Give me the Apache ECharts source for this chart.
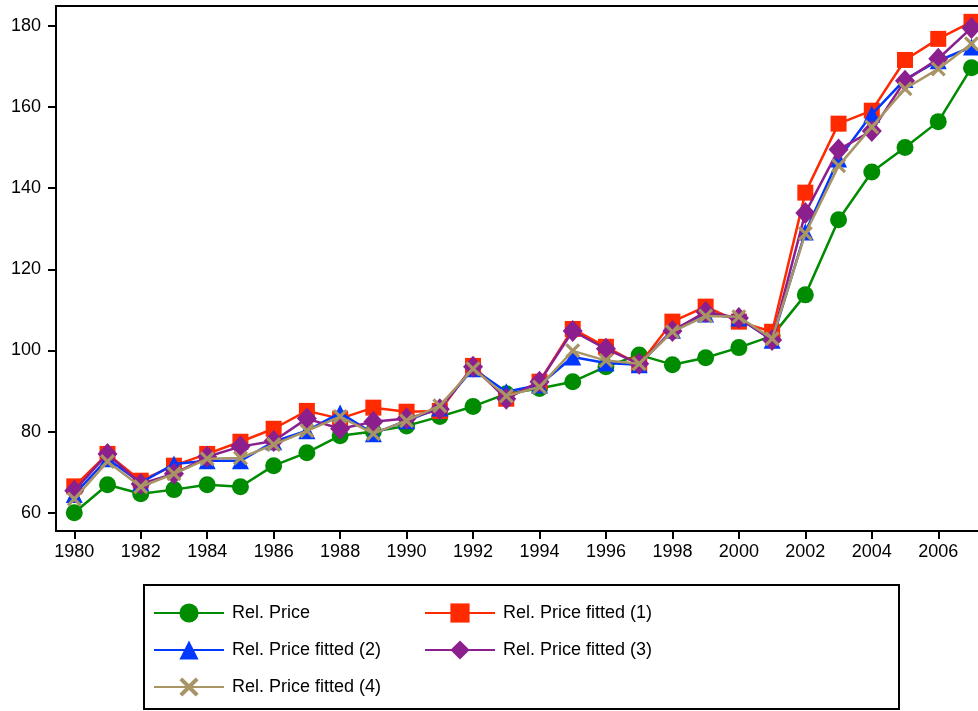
<!DOCTYPE html>
<html>
<head>
<meta charset="utf-8">
<script src="https://cdn.jsdelivr.net/npm/echarts@6/dist/echarts.min.js"></script>
<style>html,body{margin:0;padding:0;background:#fff;}#c{width:978px;height:711px;}</style>
</head>
<body>
<div id="c"></div>
<script>
const years = [1980,1981,1982,1983,1984,1985,1986,1987,1988,1989,1990,1991,1992,1993,1994,1995,1996,1997,1998,1999,2000,2001,2002,2003,2004,2005,2006,2007];
const xTicks = [1980,1982,1984,1986,1988,1990,1992,1994,1996,1998,2000,2002,2004,2006];
const yTicks = [60,80,100,120,140,160,180];
const relPrice = [60,66.9,64.7,65.7,66.9,66.4,71.6,74.8,79,80,81.4,83.7,86.2,89.3,90.6,92.3,96,98.9,96.5,98.2,100.7,103.6,113.7,132.2,144,150,156.4,169.7];
const fitted1 = [66.5,74.5,67.9,71.6,74.5,77.5,80.7,85.1,83.2,85.9,84.9,85.1,96.2,88.1,92.3,105.3,100.9,96.5,107.1,110.8,107.1,104.6,138.9,155.9,159.1,171.6,176.8,181];
const fitted2 = [64.5,73.3,67.4,72,72.8,72.8,77.5,80.2,84.6,79.5,82.7,85.8,95.5,89.8,91.5,98.4,96.9,96.5,105,109,108,102.5,129.2,147.2,158.2,166.8,171.4,174.8];
const fitted3 = [65.4,74.5,67.1,69.6,73.8,76.3,77.7,83.2,80.7,82.4,83.2,85.5,96,88.1,92.3,104.8,100.4,96.7,104.8,109.5,108,102.6,133.9,149.5,154.1,166.5,171.9,179.5];
const fitted4 = [63.4,72.6,66.4,69.6,73.3,73.5,76.8,80.2,83.7,79.5,82.7,86.4,95.5,88.8,91,99.9,97.5,96.7,104.6,108.5,108.3,102.9,128.8,145.5,155.1,164.5,169.4,175.6];
const names = ['Rel. Price','Rel. Price fitted (1)','Rel. Price fitted (2)','Rel. Price fitted (3)','Rel. Price fitted (4)'];

const colors = ['#008c00','#ff2a00','#0038ff','#8c1f8e','#a89464'];
const crossPath = 'path://M0,1.5 L1.5,0 L5,3.5 L8.5,0 L10,1.5 L6.5,5 L10,8.5 L8.5,10 L5,6.5 L1.5,10 L0,8.5 L3.5,5 Z';
const symbols = ['circle','rect','triangle','diamond',crossPath];
const sizes = [17,16,17,[20,22],15];
const datas = [relPrice,fitted1,fitted2,fitted3,fitted4];

const chart = echarts.init(document.getElementById('c'), null, {renderer:'canvas'});
const fontAxis = '"Liberation Sans", Arial, Helvetica, sans-serif';

const series = datas.map((d,i)=>({
  name: names[i],
  type: 'line',
  data: years.map((y,j)=>[y,d[j]]),
  symbol: symbols[i],
  symbolSize: sizes[i],
  showAllSymbol: true,
  lineStyle: {color: colors[i], width: 2.5},
  itemStyle: {color: colors[i], borderWidth: 0},
  emphasis: {disabled: true},
  animation: false,
  clip: true,
  z: 2 + i
}));

const legendCommon = {
  orient: 'vertical', top: 601, itemWidth: 70, itemHeight: 24, itemGap: 13,
  textStyle: {fontSize: 18, fontFamily: fontAxis, color: '#000', lineHeight: 24, padding: [0,0,0,3]},
  selectedMode: false, padding: 0
};

chart.setOption({
  animation: false,
  backgroundColor: '#fff',
  grid: {left: 56, top: 6, right: 0, height: 525},
  xAxis: [{
    type: 'value', min: 1979.45, max: 1979.45 + 922/33.23,
    axisLine: {show: true, onZero: false, lineStyle: {color: '#000', width: 2}},
    axisTick: {show: true, length: 8, lineStyle: {color: '#000', width: 2}, customValues: xTicks},
    axisLabel: {color: '#000', fontSize: 18, fontFamily: fontAxis, margin: 12, customValues: xTicks, formatter: v => String(v)},
    splitLine: {show: false}
  }, {
    type: 'value', position: 'top', min: 1979.45, max: 1979.45 + 922/33.23,
    axisLine: {show: true, onZero: false, lineStyle: {color: '#000', width: 2}},
    axisTick: {show: false}, axisLabel: {show: false}, splitLine: {show: false}
  }],
  yAxis: {
    type: 'value', min: 55.5, max: 184.9,
    axisLine: {show: true, onZero: false, lineStyle: {color: '#000', width: 2}},
    axisTick: {show: true, length: 8, lineStyle: {color: '#000', width: 2}, customValues: yTicks},
    axisLabel: {color: '#000', fontSize: 18, fontFamily: fontAxis, margin: 15, customValues: yTicks},
    splitLine: {show: false}
  },
  legend: [
    Object.assign({data: [names[0], names[2], names[4]], left: 153}, legendCommon),
    Object.assign({data: [names[1], names[3]], left: 424}, legendCommon)
  ],
  graphic: [
    {type: 'rect', shape: {x: 144, y: 585, width: 755, height: 124}, style: {fill: 'none', stroke: '#000', lineWidth: 2}, z: 10}
  ],
  series: series
});
</script>
</body>
</html>
